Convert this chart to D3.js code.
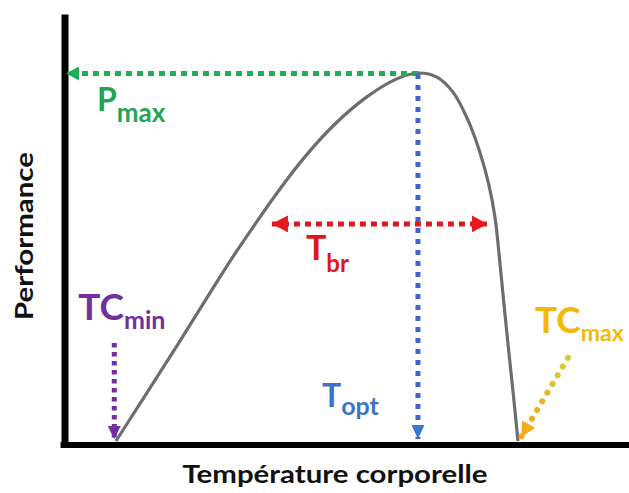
<!DOCTYPE html>
<html><head><meta charset="utf-8">
<script src="https://cdn.jsdelivr.net/npm/d3@7"></script>
<style>body{margin:0;background:#fff}svg{display:block}</style>
</head><body><svg id="c" width="629" height="493"></svg>
<script>
// ---- data (arbitrary temperature units 0-100, performance 0-1) ----
const temperature = [9.2, 19.5, 29.4, 33.5, 37.7, 42.3, 47.6, 53.6, 58.9, 62.65, 66.0, 68.85, 71.5, 73.6, 75.2, 76.3, 77.0, 77.8, 78.6, 79.5, 80.35];
const performance = [0, 0.247, 0.489, 0.582, 0.674, 0.766, 0.856, 0.935, 0.984, 1, 0.989, 0.948, 0.872, 0.785, 0.696, 0.606, 0.508, 0.383, 0.261, 0.130, 0];
const keyNames = ["TCmin", "Topt", "TCmax"];
const keyTemps = [8.9, 62.65, 80.35];
const pMax = 1;
const tbrRange = [36.8, 75.0];
const tbrLevel = 0.59;
const labelMain = ["P", "T", "TC", "TC", "T"];
const labelSub = ["max", "br", "min", "max", "opt"];
const axisTitles = ["Température corporelle", "Performance"];

const svg = d3.select("#c");
const x = d3.scaleLinear([0, 100], [64, 629]);
const y = d3.scaleLinear([0, 1], [441, 73]);
const [ctMin, tOpt, ctMax] = keyTemps;
const FONT = "Lato, 'Open Sans', sans-serif";

const defs = svg.append("defs");
function marker(id, color, len, w) {
  defs.append("marker").attr("id", id)
    .attr("markerUnits", "userSpaceOnUse")
    .attr("viewBox", `0 0 ${len} ${w}`)
    .attr("refX", len).attr("refY", w / 2)
    .attr("markerWidth", len).attr("markerHeight", w)
    .attr("orient", "auto-start-reverse")
    .append("path").attr("d", `M0,0L${len},${w / 2}L0,${w}Z`).attr("fill", color);
}
marker("mGreen", "#1fae55", 13, 14);
marker("mRed", "#e8181d", 16, 17);
marker("mBlue", "#3b74d2", 14, 13);
marker("mPurple", "#7030a0", 13, 13);
marker("mOrange", "#f4ad16", 15, 15);

const grad = defs.append("linearGradient").attr("id", "gOrange")
  .attr("gradientUnits", "userSpaceOnUse")
  .attr("x1", x(89.2)).attr("y1", y(0.226)).attr("x2", x(80.9)).attr("y2", y(0.011));
grad.append("stop").attr("offset", 0).attr("stop-color", "#cfd02c");
grad.append("stop").attr("offset", 1).attr("stop-color", "#f5a51a");

// ---- axes (no ticks) ----
const yAxisScale = d3.scaleLinear([-0.017, 1.16], [y(-0.017), y(1.16)]);
const xAxisScale = d3.scaleLinear([-0.7, 100], [x(-0.7), x(100)]);
const gy = svg.append("g").attr("transform", `translate(${x(0) + 0.5},0)`)
  .call(d3.axisLeft(yAxisScale).tickValues([]).tickSizeOuter(0));
gy.select(".domain").attr("stroke", "#000").attr("stroke-width", 7);
const gx = svg.append("g").attr("transform", `translate(0,${y(0) + 3.5})`)
  .call(d3.axisBottom(xAxisScale).tickValues([]).tickSizeOuter(0));
gx.select(".domain").attr("stroke", "#000").attr("stroke-width", 6);

// ---- curve ----
const pts = temperature.map((t, i) => ({ t, p: performance[i] }));
svg.append("path").datum(pts)
  .attr("d", d3.line().x(d => x(d.t)).y(d => y(d.p)).curve(d3.curveCatmullRom.alpha(0.5)))
  .attr("fill", "none").attr("stroke", "#6d6d6d").attr("stroke-width", 3.2);

// ---- annotation arrows ----
// Pmax
svg.append("line")
  .attr("x1", x(tOpt)).attr("y1", y(pMax) + 0.5).attr("x2", x(0) + 2).attr("y2", y(pMax) + 0.5)
  .attr("stroke", "#1fae55").attr("stroke-width", 5).attr("stroke-dasharray", "6,5")
  .attr("marker-end", "url(#mGreen)");
// Tbr
svg.append("line")
  .attr("x1", x(tbrRange[0])).attr("y1", y(tbrLevel)).attr("x2", x(tbrRange[1])).attr("y2", y(tbrLevel))
  .attr("stroke", "#e0161c").attr("stroke-width", 5).attr("stroke-dasharray", "6,5")
  .attr("marker-start", "url(#mRed)").attr("marker-end", "url(#mRed)");
// Topt
svg.append("line")
  .attr("x1", x(tOpt)).attr("y1", y(pMax) + 1).attr("x2", x(tOpt)).attr("y2", y(0) - 2)
  .attr("stroke", "#4562c8").attr("stroke-width", 5).attr("stroke-dasharray", "5,6")
  .attr("marker-end", "url(#mBlue)");
// TCmin
svg.append("line")
  .attr("x1", x(ctMin)).attr("y1", y(0.266)).attr("x2", x(ctMin)).attr("y2", y(0) - 2)
  .attr("stroke", "#7030a0").attr("stroke-width", 5).attr("stroke-dasharray", "4.5,4.5")
  .attr("marker-end", "url(#mPurple)");
// TCmax
svg.append("line")
  .attr("x1", x(89.2)).attr("y1", y(0.226)).attr("x2", x(80.9)).attr("y2", y(0.011))
  .attr("stroke", "url(#gOrange)").attr("stroke-width", 6).attr("stroke-linecap", "round")
  .attr("stroke-dasharray", "0.1,10")
  .attr("marker-end", "url(#mOrange)");

// ---- labels ----
const labels = [
  { x: x(0) + 33, y: y(pMax) + 38, color: "#1fa653", size: 32, sub: 26, dy: 11 },
  { x: x(tbrRange[0]) + 34, y: y(tbrLevel) + 36, color: "#e0161c", size: 34, sub: 24, dy: 12 },
  { x: x(ctMin) - 36, y: y(0.328), color: "#7030a0", size: 37, sub: 25, dy: 9 },
  { x: x(ctMax) + 17, y: y(0.294), color: "#f5b70a", size: 37, sub: 23, dy: 8 },
  { x: x(tOpt) - 96, y: y(0.092), color: "#3b74c8", size: 32, sub: 25, dy: 8 }
];
labels.forEach((l, i) => {
  const t = svg.append("text").attr("x", l.x).attr("y", l.y)
    .attr("font-family", FONT).attr("font-weight", 700).attr("fill", l.color);
  t.append("tspan").attr("font-size", l.size).text(labelMain[i]);
  t.append("tspan").attr("font-size", l.sub).attr("dy", l.dy).text(labelSub[i]);
});

// ---- axis titles ----
svg.append("text").attr("x", 335).attr("y", 483).attr("text-anchor", "middle")
  .attr("font-family", FONT).attr("font-weight", 700).attr("font-size", 24).attr("fill", "#111")
  .attr("textLength", 305).attr("lengthAdjust", "spacingAndGlyphs")
  .text(axisTitles[0]);
svg.append("text").attr("transform", "translate(33,236) rotate(-90)").attr("text-anchor", "middle")
  .attr("font-family", FONT).attr("font-weight", 700).attr("font-size", 24).attr("fill", "#111")
  .attr("textLength", 168).attr("lengthAdjust", "spacingAndGlyphs")
  .text(axisTitles[1]);
</script>
</body></html>
